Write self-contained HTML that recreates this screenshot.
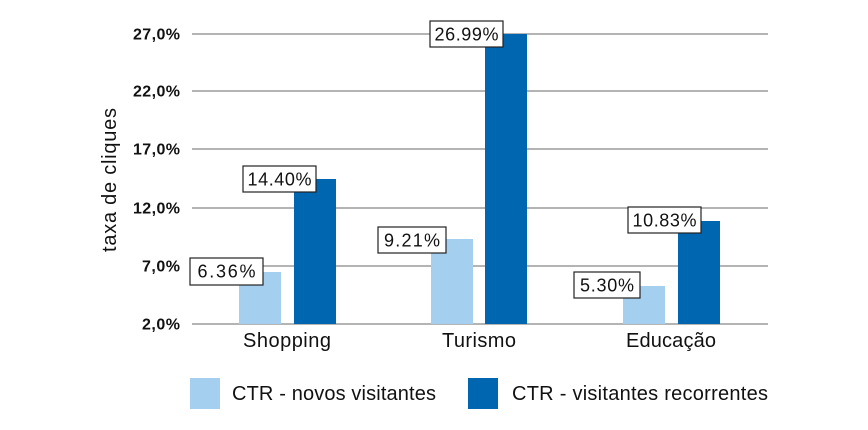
<!DOCTYPE html>
<html><head><meta charset="utf-8"><style>body{margin:0;background:#fff}svg{display:block}text{font-family:"Liberation Sans",sans-serif;fill:#111}</style></head><body>
<svg width="868" height="430" viewBox="0 0 868 430" xmlns="http://www.w3.org/2000/svg">
<g stroke="#888" stroke-width="1.2">
<line x1="192" y1="34" x2="768" y2="34"/><line x1="192" y1="91" x2="768" y2="91"/><line x1="192" y1="149" x2="768" y2="149"/><line x1="192" y1="208" x2="768" y2="208"/><line x1="192" y1="266" x2="768" y2="266"/><line x1="192" y1="324" x2="768" y2="324"/>
</g>
<g font-size="16" text-anchor="end" font-weight="bold" style="fill:#222">
<text x="180" y="39.5" textLength="47">27,0%</text><text x="180" y="96.5" textLength="47">22,0%</text><text x="180" y="154.5" textLength="47">17,0%</text><text x="180" y="213.5" textLength="47">12,0%</text><text x="180" y="271.5" textLength="38">7,0%</text><text x="180" y="329.5" textLength="38">2,0%</text>
</g>
<text transform="translate(116,180) rotate(-90)" font-size="20" text-anchor="middle" textLength="144">taxa de cliques</text>
<g fill="#a5cfef"><rect x="239" y="272" width="42" height="52"/><rect x="431" y="239" width="42" height="85"/><rect x="623" y="286" width="42" height="38"/></g>
<g fill="#0066b0"><rect x="294" y="179" width="42" height="145"/><rect x="485" y="34" width="42" height="290"/><rect x="678" y="221" width="42" height="103"/></g>
<g fill="#fff" stroke="#222" stroke-width="1.2">
<rect x="190" y="258" width="73" height="27"/><rect x="243" y="166" width="73" height="26"/><rect x="378" y="227" width="68" height="26"/><rect x="430" y="21" width="73" height="26"/><rect x="574" y="272" width="66" height="26"/><rect x="628" y="207" width="73" height="26"/>
</g>
<g font-size="18" text-anchor="middle">
<text x="226.5" y="277.5" textLength="58">6.36%</text><text x="279.5" y="185.5" textLength="64">14.40%</text><text x="412" y="246.5" textLength="56">9.21%</text><text x="466.5" y="40.5" textLength="64">26.99%</text><text x="607" y="291.5" textLength="54">5.30%</text><text x="664.5" y="226.5" textLength="64">10.83%</text>
</g>
<g font-size="20" text-anchor="middle">
<text x="287" y="347" textLength="88">Shopping</text><text x="479" y="347" textLength="74">Turismo</text><text x="671" y="347" textLength="90">Educação</text>
</g>
<rect x="190" y="378" width="30" height="31" fill="#a5cfef"/><rect x="468" y="378" width="30" height="31" fill="#0066b0"/>
<g font-size="20"><text x="232" y="400" textLength="204">CTR - novos visitantes</text><text x="512" y="400" textLength="256">CTR - visitantes recorrentes</text></g>
</svg>
</body></html>
